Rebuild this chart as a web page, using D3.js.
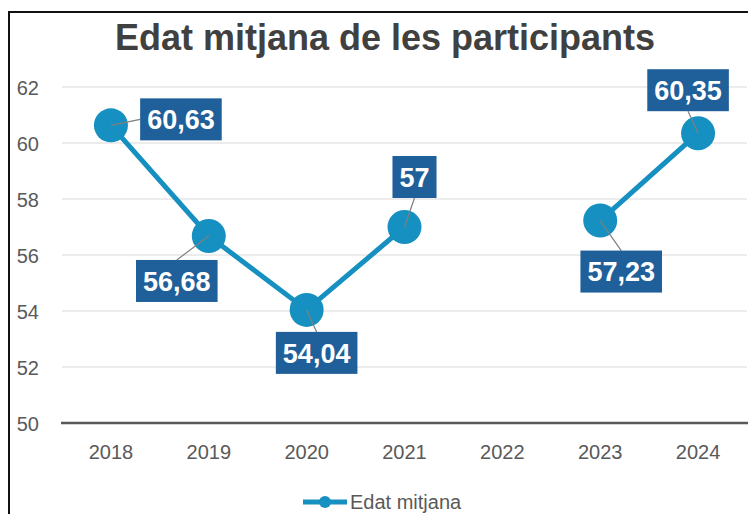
<!DOCTYPE html>
<html>
<head>
<meta charset="utf-8">
<script src="https://cdn.jsdelivr.net/npm/d3@7"></script>
<style>
  html, body { margin: 0; padding: 0; background: #fff; }
  svg { display: block; }
</style>
</head>
<body>
<svg id="chart" width="748" height="514"></svg>
<script>
// ---- data ----
const years = ["2018", "2019", "2020", "2021", "2022", "2023", "2024"];
const values = [60.63, 56.68, 54.04, 57, null, 57.23, 60.35];
const valueLabels = ["60,63", "56,68", "54,04", "57", "", "57,23", "60,35"];
const yTicks = [50, 52, 54, 56, 58, 60, 62];
const seriesName = "Edat mitjana";
const title = "Edat mitjana de les participants";

// ---- layout (label offsets relative to each point, in px) ----
const labelOffsets = [[70, -6], [-32, 45], [10, 43], [10, -50], [0, 0], [21, 51], [-10, -43]];

const svg = d3.select("#chart");
const W = 748, H = 514;
const plot = { left: 62, right: 747, top: 87, bottom: 423 };

const x = d3.scaleBand().domain(years).range([plot.left, plot.right]).padding(0);
const y = d3.scaleLinear().domain([50, 62]).range([plot.bottom, plot.top]);
const cx = d => x(d) + x.bandwidth() / 2;

// frame
svg.append("rect").attr("x", 9).attr("y", 12).attr("width", 800).attr("height", 600)
  .attr("fill", "none").attr("stroke", "#111").attr("stroke-width", 2);

// title
svg.append("text").attr("x", 385).attr("y", 50).attr("text-anchor", "middle")
  .attr("font-family", "Liberation Sans, Arial, sans-serif").attr("font-weight", "bold")
  .attr("font-size", 36).attr("fill", "#404040").text(title);

// gridlines
svg.append("g").selectAll("line").data(yTicks.filter(t => t !== 50)).join("line")
  .attr("x1", plot.left).attr("x2", plot.right)
  .attr("y1", d => y(d)).attr("y2", d => y(d))
  .attr("stroke", "#d9d9d9").attr("stroke-width", 1.2);

// y axis labels
const yAxis = d3.axisLeft(y).tickValues(yTicks).tickSize(0).tickPadding(0).tickFormat(d3.format("d"));
const gy = svg.append("g").attr("transform", "translate(39,0)").call(yAxis);
gy.select(".domain").remove();
gy.selectAll("text").attr("font-family", "Liberation Sans, Arial, sans-serif")
  .attr("font-size", 20).attr("fill", "#595959").attr("dy", "0.35em");

// x axis
const xAxis = d3.axisBottom(x).tickSize(0).tickPadding(0);
const gx = svg.append("g").attr("transform", `translate(0,${plot.bottom})`).call(xAxis);
gx.select(".domain").remove();
gx.selectAll("text").attr("font-family", "Liberation Sans, Arial, sans-serif")
  .attr("font-size", 20).attr("fill", "#595959").attr("dy", 0).attr("y", 36);
svg.append("line").attr("x1", 61).attr("x2", W).attr("y1", y(50)).attr("y2", y(50))
  .attr("stroke", "#595959").attr("stroke-width", 2.5);

// series
const pts = years.map((yr, i) => ({ yr, v: values[i], lab: valueLabels[i], off: labelOffsets[i] }));
const color = "#1690c0";
const line = d3.line().defined(d => d.v != null).x(d => cx(d.yr)).y(d => y(d.v));
svg.append("path").datum(pts).attr("d", line).attr("fill", "none")
  .attr("stroke", color).attr("stroke-width", 5);

const valid = pts.filter(d => d.v != null);
svg.append("g").selectAll("circle").data(valid).join("circle")
  .attr("cx", d => cx(d.yr)).attr("cy", d => y(d.v)).attr("r", 17).attr("fill", color);

// labels with leader lines
const lg = svg.append("g");
valid.forEach(d => {
  const px = cx(d.yr), py = y(d.v);
  const lx = px + d.off[0], ly = py + d.off[1];
  const t = lg.append("text").attr("x", lx).attr("y", ly).attr("dy", "0.36em")
    .attr("text-anchor", "middle")
    .attr("font-family", "Liberation Sans, Arial, sans-serif").attr("font-weight", "bold")
    .attr("font-size", 27).attr("fill", "#fff").text(d.lab);
  const bb = t.node().getBBox();
  const bw = bb.width + 14, bh = 42;
  const x0 = lx - bw / 2, x1 = lx + bw / 2, y0 = ly - bh / 2, y1 = ly + bh / 2;
  let tx, ty;
  if (px < x0) { tx = x0; ty = ly; }
  else if (px > x1) { tx = x1; ty = ly; }
  else if (py < y0) { tx = lx; ty = y0; }
  else { tx = lx; ty = y1; }
  lg.insert("line", "text").attr("x1", px).attr("y1", py).attr("x2", tx).attr("y2", ty)
    .attr("stroke", "#7f7f7f").attr("stroke-width", 1.2);
  lg.insert("rect", "text").attr("x", x0).attr("y", y0).attr("width", bw).attr("height", bh)
    .attr("fill", "#1f5f9a");
});

// legend
const leg = svg.append("g");
leg.append("line").attr("x1", 303).attr("x2", 347).attr("y1", 502).attr("y2", 502)
  .attr("stroke", color).attr("stroke-width", 5);
leg.append("circle").attr("cx", 325).attr("cy", 502).attr("r", 6).attr("fill", color);
leg.append("text").attr("x", 350).attr("y", 509)
  .attr("font-family", "Liberation Sans, Arial, sans-serif").attr("font-size", 20)
  .attr("fill", "#595959").text(seriesName);
</script>
</body>
</html>
